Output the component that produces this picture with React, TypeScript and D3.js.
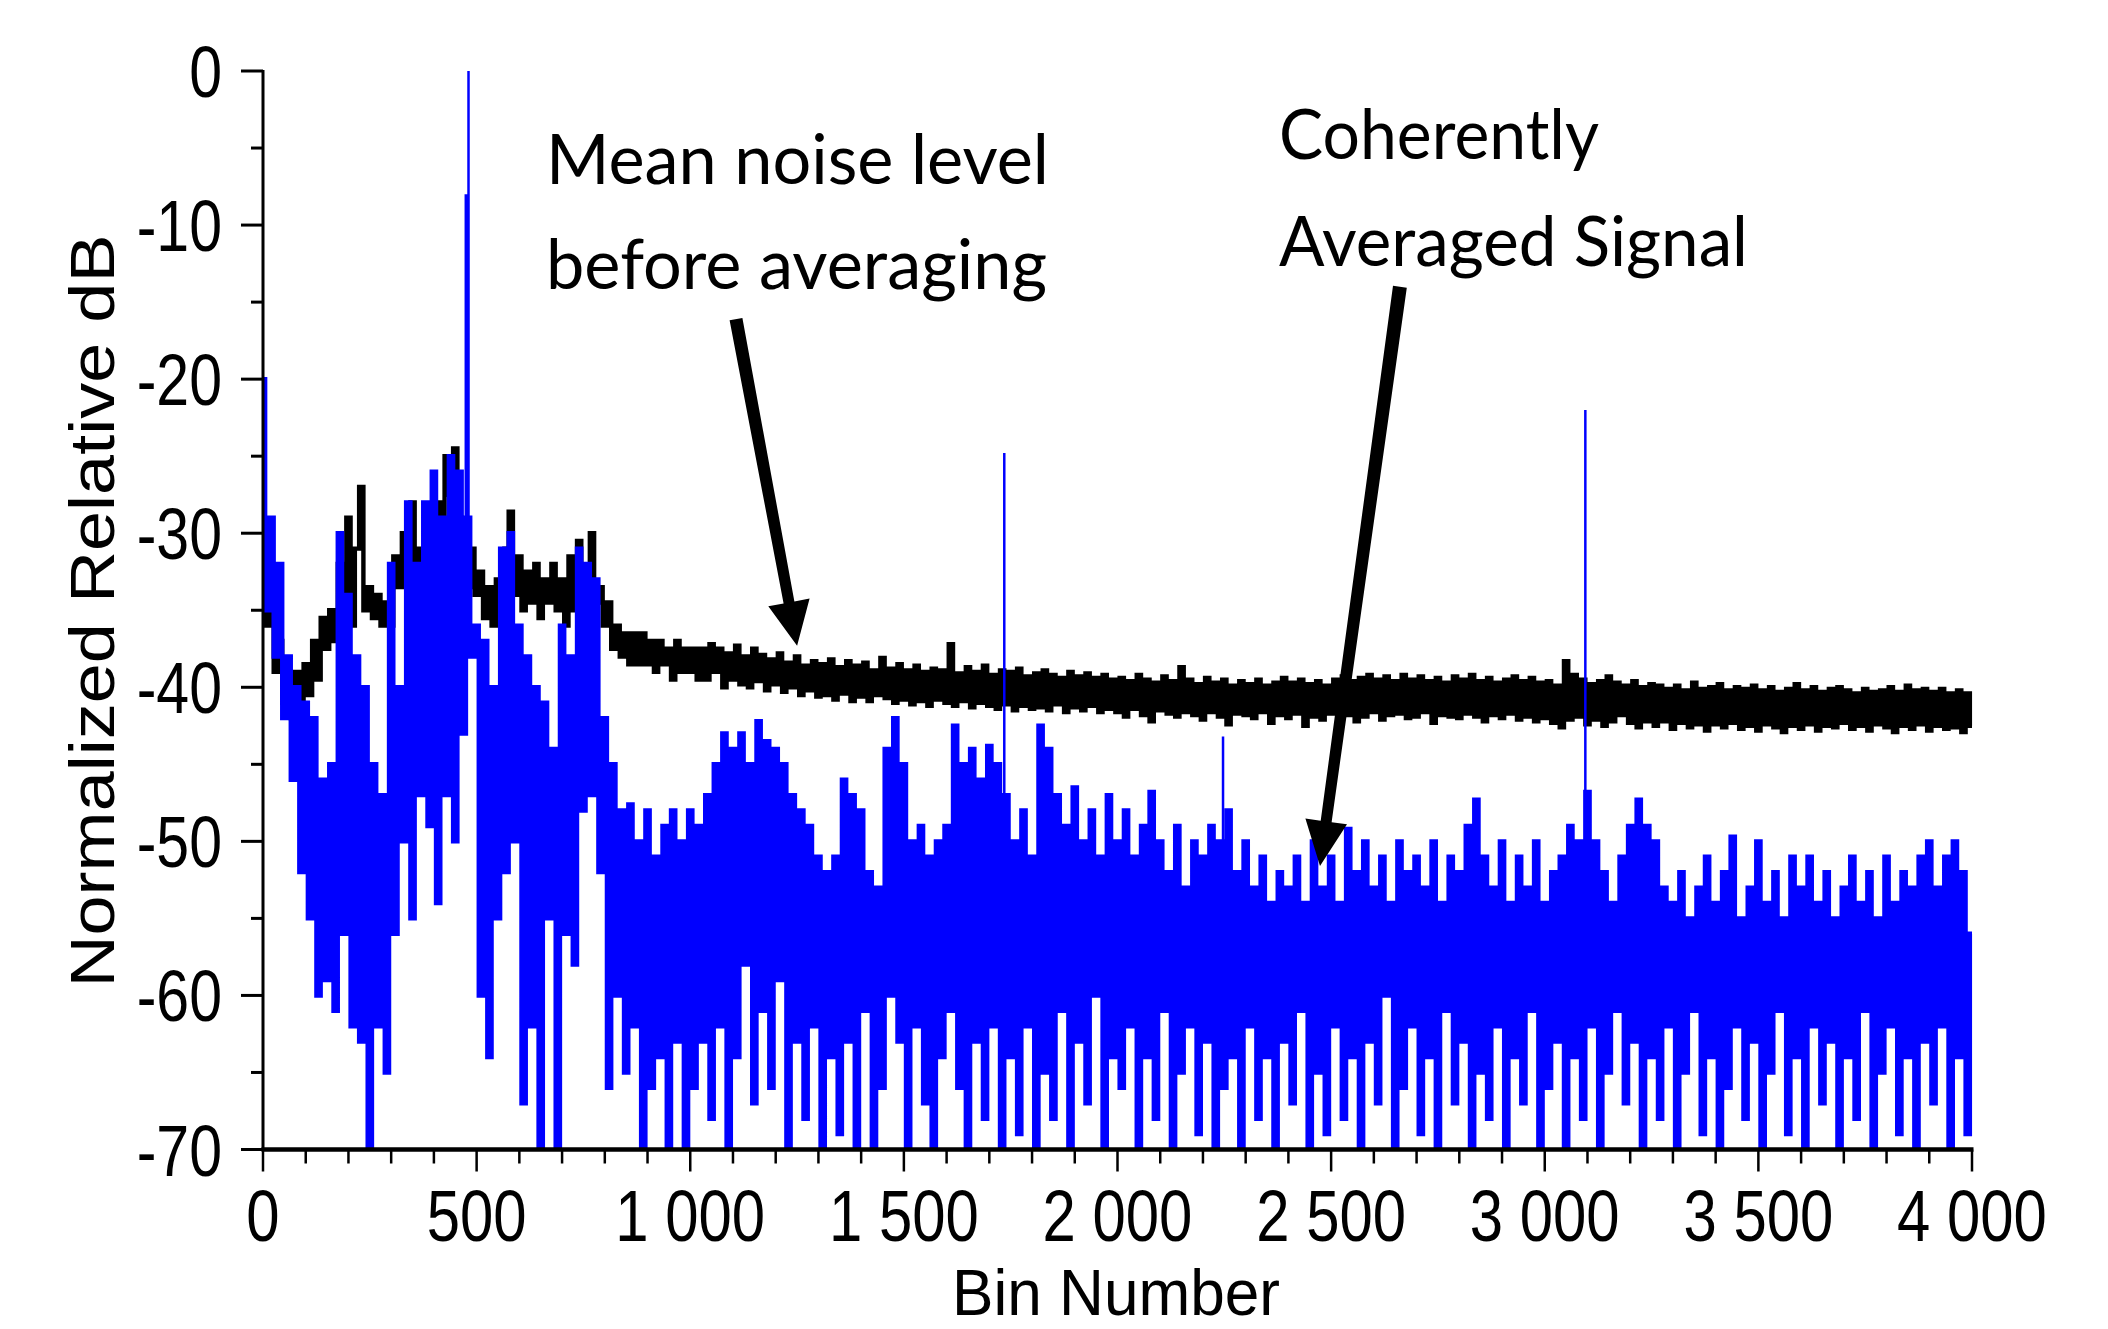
import React from 'react';
import * as d3 from 'd3';

const BIN_STEP = 10;

// mean noise level before averaging (black)
const BLACK_DB = [
  -32, -36, -35, -39, -37, -41, -39, -42, -39, -41.5,
  -38.5, -40.5, -37, -39.5, -35.5, -37.5, -35, -37, -32, -36.5,
  -29, -36, -31, -27, -35, -33.5, -35.5, -34, -36, -34.5,
  -36, -31.5, -33.5, -30, -33, -28, -33.5, -31, -33, -30,
  -32.5, -28, -30.5, -25, -27.5, -24.5, -29, -31, -33.5, -31,
  -34, -32.5, -35.5, -33.5, -36, -33, -35, -31, -28.6, -34,
  -31.5, -35, -32.5, -34.5, -32, -35.5, -33, -34.5, -32, -35,
  -33, -36, -31.5, -35, -30.5, -36.5, -33, -30, -34.5, -33.5,
  -36, -34.5, -37.5, -36, -38, -36.5, -38.5, -36.5, -38.5, -36.5,
  -38.5, -37, -39, -37, -38.5, -37.5, -39.5, -37, -39, -37.5,
  -39, -37.5, -39.5, -37.5, -39.5, -37.2, -39, -37.5, -40, -37.8,
  -39.5, -37.3, -39.8, -38, -40, -37.5, -39.6, -37.9, -40.2, -38.2,
  -39.8, -37.8, -40.3, -38.4, -40, -38, -40.5, -38.6, -40.2, -38.3,
  -40.6, -38.5, -40.5, -38.2, -40.8, -38.7, -40.4, -38.3, -40.9, -38.6,
  -40.6, -38.4, -40.9, -38.9, -40.5, -38.1, -40.7, -38.8, -41, -38.5,
  -40.8, -38.9, -41.1, -38.6, -40.9, -39, -41.2, -38.8, -40.8, -38.9,
  -41, -37.2, -41.2, -39.1, -40.9, -38.7, -41.3, -39, -41, -38.6,
  -41.2, -39.2, -41.4, -38.9, -41.1, -39, -41.5, -38.8, -41.2, -39.3,
  -41.4, -39.1, -41.3, -38.9, -41.5, -39.2, -41.1, -39.4, -41.6, -39,
  -41.3, -39.3, -41.5, -39.1, -41.2, -39.4, -41.6, -39.2, -41.4, -39.5,
  -41.6, -39.4, -41.9, -39.6, -41.4, -39.2, -41.8, -39.5, -42.2, -39.7,
  -41.5, -39.3, -41.7, -39.6, -41.9, -38.7, -41.6, -39.5, -41.8, -39.8,
  -42.1, -39.4, -41.6, -39.7, -41.9, -39.5, -42.4, -39.9, -41.7, -39.6,
  -41.8, -39.8, -42, -39.5, -41.6, -39.9, -42.3, -39.7, -41.8, -39.4,
  -42, -39.7, -41.7, -39.5, -42.5, -39.8, -41.9, -39.6, -42.1, -39.9,
  -41.7, -39.5, -42, -39.3, -41.8, -39.6, -42.2, -39.4, -41.9, -39.2,
  -41.6, -39.5, -42.1, -39.3, -41.8, -39.6, -41.7, -39.2, -42, -39.5,
  -41.9, -39.3, -41.6, -39.6, -42.3, -39.4, -41.8, -39.7, -41.9, -39.3,
  -42, -39.5, -41.7, -39.2, -41.9, -39.6, -42.2, -39.4, -41.8, -39.7,
  -42, -39.5, -41.7, -39.3, -42.1, -39.6, -41.9, -39.4, -42.2, -39.7,
  -42, -39.6, -42.3, -39.9, -42.6, -38.3, -42.1, -39.2, -41.9, -39.5,
  -42.4, -39.8, -42.1, -39.6, -42.5, -39.3, -42.2, -39.7, -41.8, -39.9,
  -42.3, -39.6, -42.6, -40, -42.2, -39.8, -42.5, -39.9, -42.2, -40.1,
  -42.7, -39.9, -42.3, -40.2, -42.6, -39.7, -42.4, -40.1, -42.8, -40,
  -42.4, -39.8, -42.6, -40.2, -42.3, -40, -42.7, -40.1, -42.5, -39.9,
  -42.8, -40.2, -42.4, -40, -42.6, -40.3, -42.9, -40.1, -42.5, -39.8,
  -42.7, -40.2, -42.4, -40, -42.8, -40.3, -42.5, -40.1, -42.6, -40,
  -42.3, -40.2, -42.7, -40.4, -42.5, -40.1, -42.8, -40.3, -42.4, -40.2,
  -42.6, -40, -42.9, -40.3, -42.5, -39.9, -42.7, -40.2, -42.4, -40.1,
  -42.8, -40.3, -42.5, -40.1, -42.7, -40.4, -42.6, -40.2, -42.9, -40.4,
  -42.5,
];

// coherently averaged signal (blue)
const BLUE_DB = [
  -20, -35, -29, -38, -32, -42, -38, -46, -40, -52,
  -41, -55, -42, -60, -46, -59, -45, -61, -30, -56,
  -34, -62, -38, -63, -40, -70, -45, -62, -47, -65,
  -32, -56, -40, -50, -28, -55, -32, -47, -28, -49,
  -26, -54, -29, -47, -25, -50, -26, -43, -29, -38,
  -36, -60, -37, -64, -40, -55, -31, -52, -30, -50,
  -36, -67, -38, -62, -40, -70, -41, -55, -44, -70,
  -36, -56, -38, -58, -31, -48, -32, -47, -33, -52,
  -42, -66, -45, -60, -48, -65, -47.6, -62, -50, -70,
  -48, -66, -51, -64, -49, -70, -48, -63, -50, -70,
  -48, -66, -49, -63, -47, -68, -45, -62, -43, -70,
  -44, -64, -43, -58, -45, -67, -42.2, -61, -43.5, -66,
  -44, -59, -45, -70, -47, -63, -48, -68, -49, -62,
  -51, -70, -52, -64, -51, -69, -46, -63, -47, -70,
  -48, -61, -52, -70, -53, -66, -44, -60, -42, -63,
  -45, -70, -50, -62, -49, -67, -51, -70, -50, -64,
  -49, -61, -42.5, -66, -45, -70, -44, -63, -46, -68,
  -43.8, -62, -45, -70, -47, -64, -50, -69, -48, -62,
  -51, -70, -42.5, -65, -44, -68, -47, -61, -49, -70,
  -46.5, -63, -50, -67, -48, -60, -51, -70, -47, -64,
  -50, -66, -48, -62, -51, -70, -49, -64, -46.8, -68,
  -50, -61, -52, -70, -49, -65, -53, -62, -50, -69,
  -51, -63, -49, -70, -50, -66, -48, -64, -52, -70,
  -50, -62, -53, -68, -51, -64, -54, -70, -52, -63,
  -53, -67, -51, -61, -54, -70, -50, -65, -53, -69,
  -51, -62, -54, -68, -49.2, -64, -52, -70, -50, -63,
  -53, -67, -51, -60, -54, -70, -50, -66, -52, -62,
  -51, -69, -53, -64, -50, -70, -54, -61, -51, -67,
  -52, -63, -49, -70, -47.3, -65, -51, -68, -53, -62,
  -50, -70, -54, -64, -51, -67, -53, -61, -50, -70,
  -54, -66, -52, -63, -51, -70, -49, -64, -50, -68,
  -46.8, -62, -50, -70, -52, -65, -54, -61, -51, -67,
  -49, -63, -47.3, -70, -49, -64, -50, -68, -53, -62,
  -54, -70, -52, -65, -55, -61, -53, -69, -51, -64,
  -54, -70, -52, -66, -49.7, -62, -55, -68, -53, -63,
  -50, -70, -54, -65, -52, -61, -55, -69, -51, -64,
  -53, -70, -51, -62, -54, -67, -52, -63, -55, -70,
  -53, -64, -51, -68, -54, -61, -52, -70, -55, -65,
  -51, -62, -54, -69, -52, -64, -53, -70, -51, -63,
  -50, -67, -53, -62, -51, -70, -50, -64, -52, -69,
  -56,
];

// single-bin tones standing out of the averaged signal: [bin, dB, stroke]
const BLUE_SPIKES = [
  [477, -8, 4.5],
  [481, 0, 2.5],
  [1735, -24.8, 2.5],
  [2247, -43.2, 2.5],
  [3095, -22, 2.5],
];

const X_MAJOR = [0, 500, 1000, 1500, 2000, 2500, 3000, 3500, 4000];
const Y_MAJOR = [0, -10, -20, -30, -40, -50, -60, -70];

const W = 2108;
const H = 1329;

const fmt = d3.formatLocale({ decimal: '.', thousands: ' ', grouping: [3], currency: ['', ''] }).format(',');

function arrowPoints(p0, p1, w0, w1, headW, headL) {
  const dx = p1[0] - p0[0];
  const dy = p1[1] - p0[1];
  const len = Math.sqrt(dx * dx + dy * dy);
  const ux = dx / len, uy = dy / len;
  const nx = -uy, ny = ux;
  const bx = p1[0] - ux * headL, by = p1[1] - uy * headL;
  const pts = [
    [p0[0] + nx * w0 / 2, p0[1] + ny * w0 / 2],
    [bx + nx * w1 / 2, by + ny * w1 / 2],
    [bx + nx * headW / 2, by + ny * headW / 2],
    [p1[0], p1[1]],
    [bx - nx * headW / 2, by - ny * headW / 2],
    [bx - nx * w1 / 2, by - ny * w1 / 2],
    [p0[0] - nx * w0 / 2, p0[1] - ny * w0 / 2],
  ];
  return pts.map(p => p[0].toFixed(1) + ',' + p[1].toFixed(1)).join(' ');
}

export default function App() {
  const x = d3.scaleLinear().domain([0, 4000]).range([263, 1972]);
  const y = d3.scaleLinear().domain([-70, 0]).range([1149.5, 71]);

  const blackPts = BLACK_DB.map((v, i) => [i * BIN_STEP, v]);
  const bluePts = BLUE_DB.map((v, i) => [i * BIN_STEP, v]);

  // step curve: each sample becomes a vertical run, like a dense spectrum trace
  const line = d3.line()
    .x(d => x(d[0]))
    .y(d => y(Math.max(d[1], -70)))
    .curve(d3.curveStep);

  const xMinor = d3.range(0, 4001, 100).filter(v => v % 500 !== 0);
  const yMinor = d3.range(-5, -70, -10);

  const sans = 'Liberation Sans, Arial, sans-serif';
  const note = 'Lato, Carlito, Calibri, sans-serif';

  // arrows, anchored in data space
  const arrow1 = arrowPoints([x(1107), y(-16.1)], [x(1250), y(-37.3)], 13, 11, 42, 44);
  const arrow2 = arrowPoints([x(2661), y(-14.0)], [x(2474), y(-51.6)], 14, 11, 42, 45);

  return (
    <svg width={W} height={H} style={{ position: 'absolute', left: 0, top: 0, background: '#fff' }}>
      <defs>
        <clipPath id="plot-clip">
          <rect x={x(0) - 3} y={0} width={x(4000) - x(0) + 6} height={y(-70)} />
        </clipPath>
      </defs>
      <rect x={0} y={0} width={W} height={H} fill="#fff" />

      <g clipPath="url(#plot-clip)">
        <path d={line(blackPts)} fill="none" stroke="#000" strokeWidth={4.4} strokeLinejoin="miter" />
        <path d={line(bluePts)} fill="none" stroke="#0000ff" strokeWidth={4.4} strokeLinejoin="miter" />
        {BLUE_SPIKES.map(([b, v, sw]) => (
          <line key={'sp' + b} x1={x(b)} x2={x(b)} y1={y(BLUE_DB[Math.round(b / BIN_STEP)])} y2={y(v)}
            stroke="#0000ff" strokeWidth={sw} />
        ))}
      </g>

      {/* y axis */}
      <line x1={x(0)} x2={x(0)} y1={y(0) - 1} y2={y(-70)} stroke="#000" strokeWidth={3} />
      {Y_MAJOR.map(v => (
        <line key={'ym' + v} x1={x(0) - 22} x2={x(0)} y1={y(v)} y2={y(v)} stroke="#000" strokeWidth={3} />
      ))}
      {yMinor.map(v => (
        <line key={'yn' + v} x1={x(0) - 12} x2={x(0)} y1={y(v)} y2={y(v)} stroke="#000" strokeWidth={3} />
      ))}
      {Y_MAJOR.map(v => (
        <g key={'yl' + v} transform={`translate(222,${y(v) + 26}) scale(0.82,1)`}>
          <text textAnchor="end" fontFamily={sans} fontSize={72} fill="#000">{String(v)}</text>
        </g>
      ))}

      {/* x axis */}
      <line x1={x(0) - 1.5} x2={x(4000) + 1.5} y1={y(-70)} y2={y(-70)} stroke="#000" strokeWidth={4.5} />
      {X_MAJOR.map(v => (
        <line key={'xm' + v} x1={x(v)} x2={x(v)} y1={y(-70)} y2={y(-70) + 22} stroke="#000" strokeWidth={2.5} />
      ))}
      {xMinor.map(v => (
        <line key={'xn' + v} x1={x(v)} x2={x(v)} y1={y(-70)} y2={y(-70) + 14} stroke="#000" strokeWidth={2.5} />
      ))}
      {X_MAJOR.map(v => (
        <g key={'xl' + v} transform={`translate(${x(v)},1241) scale(0.82,1)`}>
          <text textAnchor="middle" fontFamily={sans} fontSize={73} fill="#000">{fmt(v)}</text>
        </g>
      ))}

      {/* axis titles */}
      <text x={1116} y={1315} textAnchor="middle" fontFamily={sans} fontSize={64}
        textLength={328} lengthAdjust="spacingAndGlyphs" fill="#000">Bin Number</text>
      <text transform="translate(114,611) rotate(-90)" textAnchor="middle" fontFamily={sans} fontSize={63}
        textLength={753} lengthAdjust="spacingAndGlyphs" fill="#000">Normalized Relative dB</text>

      {/* annotations */}
      <polygon points={arrow1} fill="#000" />
      <polygon points={arrow2} fill="#000" />
      <text x={546} y={183.5} fontFamily={note} fontSize={70} textLength={503} lengthAdjust="spacingAndGlyphs" fill="#000">Mean noise level</text>
      <text x={546} y={289} fontFamily={note} fontSize={70} textLength={501} lengthAdjust="spacingAndGlyphs" fill="#000">before averaging</text>
      <text x={1279} y={158.5} fontFamily={note} fontSize={70} textLength={320} lengthAdjust="spacingAndGlyphs" fill="#000">Coherently</text>
      <text x={1279} y={266} fontFamily={note} fontSize={70} textLength={469} lengthAdjust="spacingAndGlyphs" fill="#000">Averaged Signal</text>
    </svg>
  );
}
